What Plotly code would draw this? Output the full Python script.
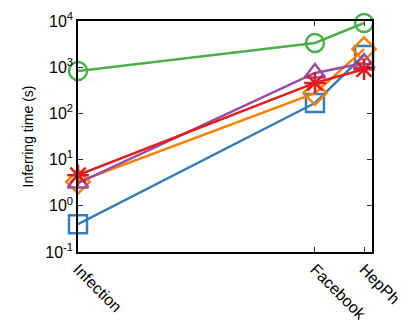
import plotly.graph_objects as go

# datasets and their positions along x
datasets = ["Infection", "Facebook", "HepPh"]
x_pos = [0.0, 0.806, 0.973]

# y ticks
y_ticks = [0.1, 1, 10, 100, 1000, 10000]
y_labels = ["10<sup>-1</sup>", "10<sup>0</sup>", "10<sup>1</sup>",
            "10<sup>2</sup>", "10<sup>3</sup>", "10<sup>4</sup>"]

# inferring time in seconds per method
blue_sq = [0.40, 168, 1840]
green_circ = [828, 3340, 9060]
orange_dia = [3.3, 275, 2460]
purple_tri = [3.1, 750, 1230]
red_star = [4.6, 457, 900]

series = [
    (blue_sq, "#377eb8", "square-open"),
    (orange_dia, "#ff7f00", "diamond-open"),
    (purple_tri, "#984ea3", "triangle-up-open"),
    (red_star, "#e41a1c", "asterisk-open"),
    (green_circ, "#4daf4a", "circle-open"),
]

fig = go.Figure()
for vals, col, sym in series:
    fig.add_trace(go.Scatter(
        x=x_pos, y=vals, mode="lines+markers",
        line=dict(color=col, width=2.5),
        marker=dict(symbol=sym, size=18, color=col, line=dict(width=2.5, color=col)),
        cliponaxis=False, showlegend=False))

fig.update_layout(
    width=409, height=328,
    margin=dict(l=78, r=37, t=21, b=76),
    plot_bgcolor="white", paper_bgcolor="white",
    font=dict(family="Liberation Sans, Arial", size=16, color="black"),
)
fig.update_xaxes(
    range=[0, 1], tickvals=x_pos, ticktext=datasets, tickangle=45,
    tickfont=dict(size=16), automargin=False,
    ticks="inside", ticklen=5, tickcolor="#333",
    showline=True, linecolor="black", linewidth=1.5, mirror="ticks",
    showgrid=False, zeroline=False,
)
fig.update_yaxes(
    type="log", range=[-1, 4], tickvals=y_ticks, ticktext=y_labels,
    tickfont=dict(size=16), automargin=False,
    ticks="inside", ticklen=5, tickcolor="#333",
    showline=True, linecolor="black", linewidth=1.5, mirror="ticks",
    showgrid=False, zeroline=False,
    title=dict(text="Inferring time (s)", font=dict(size=14), standoff=8),
)

# drop the browser's default page margin so the figure sits at 0,0
fig.write_html("out.html", config={"displayModeBar": False},
               post_script="document.body.style.margin='0';")
